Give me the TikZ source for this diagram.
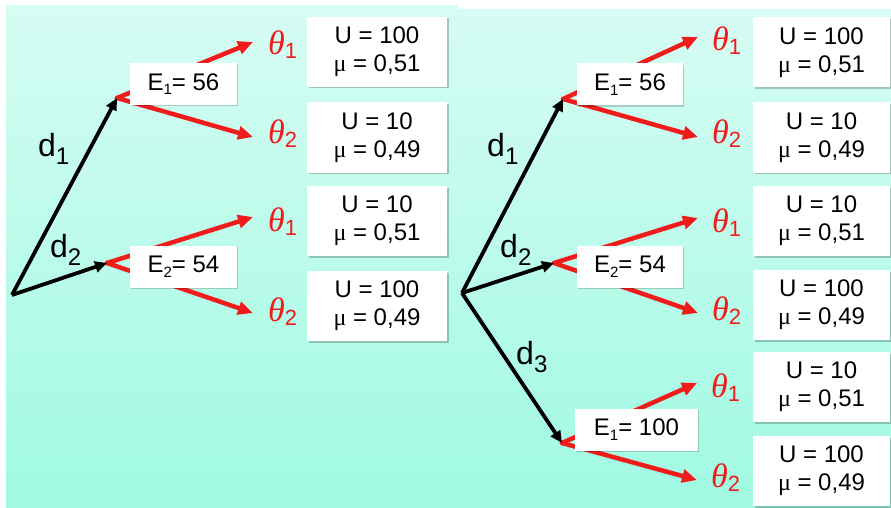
\documentclass[tikz,border=0pt]{standalone}
\usepackage{fontspec}
\setmainfont{Liberation Sans}
\newfontfamily\serf{Liberation Serif}
\usetikzlibrary{arrows.meta,shadows}
\definecolor{bgtop}{RGB}{214,252,243}
\definecolor{bgbot}{RGB}{160,250,226}
\definecolor{redarr}{RGB}{240,28,28}
\newcommand{\Esub}[1]{E\raisebox{-4.5pt}{\fontsize{15}{15}\selectfont #1}}
\newcommand{\thlab}[1]{{\serf\itshape\fontsize{34}{34}\selectfont θ}\raisebox{-4pt}{\fontsize{22}{22}\selectfont #1}}
\newcommand{\dlab}[1]{d\raisebox{-8pt}{\fontsize{24}{24}\selectfont #1}}
\newcommand{\mub}{{\serf μ}}
\tikzset{
  panel/.style={top color=bgtop, bottom color=bgbot, draw=none},
  ebox/.style={fill=white, inner sep=0pt, minimum height=42pt, font=\fontsize{24}{24}\selectfont,
    drop shadow={shadow xshift=1.2pt, shadow yshift=-1.2pt, fill=black, opacity=0.18}},
  ubox/.style={fill=white, inner sep=0pt, minimum height=70pt, align=center,
    font=\fontsize{24}{28}\selectfont,
    drop shadow={shadow xshift=1.5pt, shadow yshift=-1.5pt, fill=black, opacity=0.22}},
  redarrow/.style={draw=redarr, line width=4.5pt, -{Triangle[length=15pt,width=13pt]}},
  blackarrow/.style={draw=black, line width=3.8pt, -{Triangle[length=12pt,width=11pt]}},
  thetalab/.style={text=redarr, anchor=base west, inner sep=0pt},
  dlabel/.style={anchor=base west, inner sep=0pt, font=\fontsize{32}{32}\selectfont}
}
\begin{document}
\begin{tikzpicture}[x=1pt,y=-1pt]
\useasboundingbox (0,0) rectangle (891,508);
\fill[white] (0,0) rectangle (891,508);
% panels
\fill[panel] (6,6) rectangle (458,508);
\fill[panel] (455,10) rectangle (891,508);

% coordinates: roots, junctions, arrow tips
\coordinate (rL) at (12,295);
\coordinate (jL1) at (117,98);
\coordinate (jL2) at (107,263);
\coordinate (tL11) at (253,42);
\coordinate (tL12) at (253,137);
\coordinate (tL21) at (253,217);
\coordinate (tL22) at (253,313);

\coordinate (rR) at (462,293);
\coordinate (jR1) at (563,99);
\coordinate (jR2) at (554,263);
\coordinate (jR3) at (562,443);
\coordinate (tR11) at (698,37);
\coordinate (tR12) at (698,137);
\coordinate (tR21) at (698,218);
\coordinate (tR22) at (698,313);
\coordinate (tR31) at (697,383);
\coordinate (tR32) at (697,480);

% red arrows
\foreach \j/\t in {jL1/tL11, jL1/tL12, jL2/tL21, jL2/tL22, jR1/tR11, jR1/tR12, jR2/tR21, jR2/tR22, jR3/tR31, jR3/tR32}
  \draw[redarrow, line cap=round] (\j) -- (\t);

% black arrows
\draw[blackarrow] (rL) -- (jL1);
\draw[blackarrow] (rL) -- (jL2);
\draw[blackarrow] (rR) -- (jR1);
\draw[blackarrow] (rR) -- (jR2);
\draw[blackarrow] (rR) -- (jR3);

% E boxes
\node[ebox, minimum width=107pt] (eL1) at (183.5,84) {\Esub{1}= 56};
\node[ebox, minimum width=107pt] (eL2) at (183.5,266.5) {\Esub{2}= 54};
\node[ebox, minimum width=106pt] (eR1) at (630,84.5) {\Esub{1}= 56};
\node[ebox, minimum width=106pt] (eR2) at (630,266.5) {\Esub{2}= 54};
\node[ebox, minimum width=123pt] (eR3) at (636.5,429.5) {\Esub{1}= 100};

% theta labels
\node[thetalab] (thL11) at (268,55) {\thlab{1}};
\node[thetalab] (thL12) at (268,143) {\thlab{2}};
\node[thetalab] (thL21) at (268,231) {\thlab{1}};
\node[thetalab] (thL22) at (268,321) {\thlab{2}};
\node[thetalab] (thR11) at (712,51) {\thlab{1}};
\node[thetalab] (thR12) at (712,143) {\thlab{2}};
\node[thetalab] (thR21) at (712,232) {\thlab{1}};
\node[thetalab] (thR22) at (712,320) {\thlab{2}};
\node[thetalab] (thR31) at (711,397) {\thlab{1}};
\node[thetalab] (thR32) at (711,487) {\thlab{2}};

% d labels
\node[dlabel] (dL1) at (38,157) {\dlab{1}};
\node[dlabel] (dL2) at (50,257) {\dlab{2}};
\node[dlabel] (dR1) at (487,157) {\dlab{1}};
\node[dlabel] (dR2) at (500,257) {\dlab{2}};
\node[dlabel] (dR3) at (516,364) {\dlab{3}};

% utility boxes
\node[ubox, minimum width=140pt] (uL1) at (377,52) {U = 100\\\mub{} = 0,51};
\node[ubox, minimum width=140pt] (uL2) at (377,137.5) {U = 10\\\mub{} = 0,49};
\node[ubox, minimum width=140pt] (uL3) at (377,221) {U = 10\\\mub{} = 0,51};
\node[ubox, minimum width=140pt] (uL4) at (377,306) {U = 100\\\mub{} = 0,49};
\node[ubox, minimum width=137pt] (uR1) at (821.5,52.5) {U = 100\\\mub{} = 0,51};
\node[ubox, minimum width=137pt] (uR2) at (821.5,137.5) {U = 10\\\mub{} = 0,49};
\node[ubox, minimum width=137pt] (uR3) at (821.5,221) {U = 10\\\mub{} = 0,51};
\node[ubox, minimum width=137pt] (uR4) at (821.5,305) {U = 100\\\mub{} = 0,49};
\node[ubox, minimum width=137pt] (uR5) at (821.5,387) {U = 10\\\mub{} = 0,51};
\node[ubox, minimum width=137pt] (uR6) at (821.5,471) {U = 100\\\mub{} = 0,49};
\end{tikzpicture}
\end{document}
